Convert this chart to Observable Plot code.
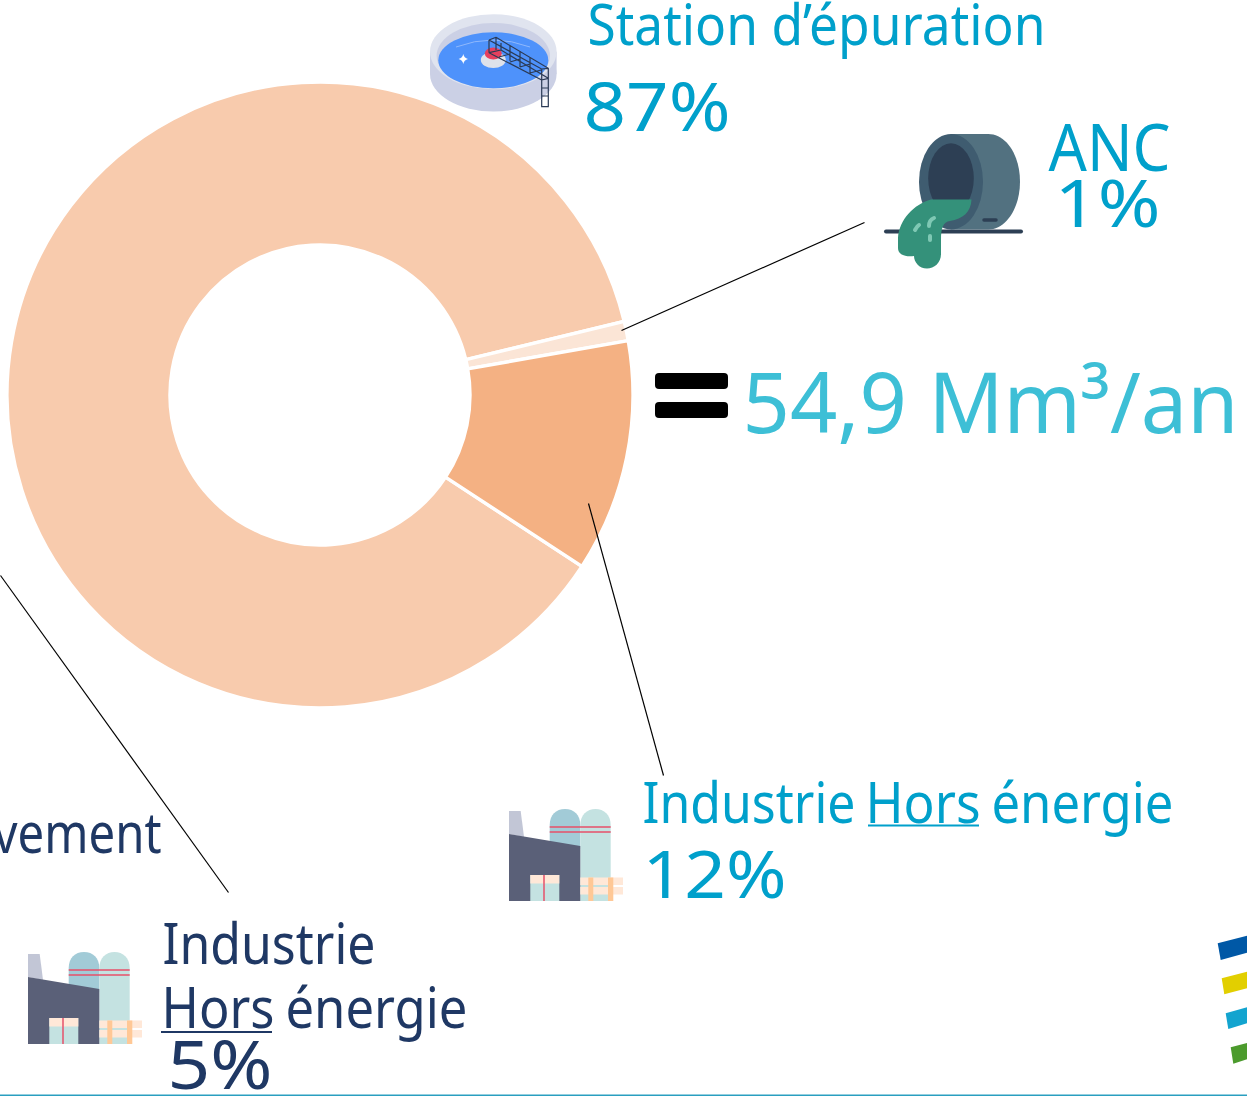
<!DOCTYPE html>
<html lang="fr">
<head>
<meta charset="utf-8">
<title>Rejets d'eau</title>
<script src="https://cdn.jsdelivr.net/npm/d3@7"></script>
<script src="https://cdn.jsdelivr.net/npm/@observablehq/plot@0.6"></script>
<style>
  html, body { margin: 0; padding: 0; background: #fff; overflow: hidden; }
  svg { display: block; }
</style>
</head>
<body>
<div id="chart"></div>
<script>
// Parts of the annual discharge volume, clockwise.
const categories = ["Station d’épuration", "ANC", "Industrie Hors énergie"];
const shares = [87, 1, 12];
const sliceColors = ["#f8cbad", "#fbe5d6", "#f4b183"];
const totalLabel = "54,9 Mm³/an";
const otherIndustryShare = 5;

const W = 1247, H = 1096;
const FONT = "'Noto Sans', 'Open Sans', sans-serif";
const BLUE = "#00a0cb", NAVY = "#1f3864", AQUA = "#3dbfd6";

// Ring geometry and the angle at which the first share begins.
const ring = {cx: 320, cy: 395, outer: 313, inner: 150, startShare: 34.22};
const shareAngle = Plot.scale({
  x: {domain: [0, 100], range: [ring.startShare / 100 * 2 * Math.PI, (ring.startShare / 100 + 1) * 2 * Math.PI]}
});

let running = 0;
const slices = categories.map((category, i) => {
  const row = {category, share: shares[i], from: running, to: running + shares[i]};
  running += shares[i];
  return row;
});

// Draws each slice as an annular sector inside the rect's bounding box.
function arcRender(index, scales, values) {
  const g = d3.create("svg:g");
  const arc = d3.arc();
  for (const i of index) {
    const x1 = values.x1[i], x2 = values.x2[i], y1 = values.y1[i], y2 = values.y2[i];
    const outer = Math.abs(x2 - x1) / 2;
    g.append("path")
      .attr("transform", `translate(${(x1 + x2) / 2},${(y1 + y2) / 2})`)
      .attr("d", arc({
        innerRadius: outer * ring.inner / ring.outer,
        outerRadius: outer,
        startAngle: shareAngle.apply(slices[i].from),
        endAngle: shareAngle.apply(slices[i].to)
      }))
      .attr("fill", values.fill ? values.fill[i] : sliceColors[i])
      .attr("stroke", "#fff")
      .attr("stroke-width", 3.4);
  }
  return g.node();
}

// Text placements: [text, x, baseline, size, colour, anchor, fitted width].
const labels = [
  [categories[0], 587, 44, 56, BLUE, "start", 458],
  [`${shares[0]}%`, 583, 130, 67, BLUE, "start", 147],
  [categories[1], 1048, 170, 66, BLUE, "start", 122],
  [`${shares[1]}%`, 1054, 226, 66, BLUE, "start", 106],
  [totalLabel, 742, 432, 84, AQUA, "start", 496],
  ["Industrie", 642, 822, 56, BLUE, "start", 213],
  ["Hors", 865, 822, 56, BLUE, "start", 115],
  ["énergie", 991, 822, 56, BLUE, "start", 182],
  [`${shares[2]}%`, 642, 897, 66, BLUE, "start", 144],
  ["vement", 161, 852, 56, NAVY, "end", 168],
  ["Industrie", 162, 963, 56, NAVY, "start", 213],
  ["Hors", 161, 1027, 56, NAVY, "start", 113],
  ["énergie", 285, 1027, 56, NAVY, "start", 182],
  [`${otherIndustryShare}%`, 167, 1088, 68, NAVY, "start", 105]
];

const leaders = [
  {x1: 621, y1: 330, x2: 864, y2: 222},
  {x1: 588, y1: 503, x2: 663, y2: 775},
  {x1: 0, y1: 575, x2: 228, y2: 892}
];

const underlines = [
  {x1: 868, x2: 979, y: 825, stroke: BLUE},
  {x1: 161, x2: 272, y: 1031.5, stroke: NAVY}
];

const equalBars = [
  {y1: 373, y2: 389},
  {y1: 402, y2: 418}
];

// Illustration shared by both industry labels, in local pixels.
const factory = `
  <path fill="#c2c6d6" d="M0 2H11.7L15 28 0 25Z"/>
  <path fill="#a2cbd7" d="M40.7 37V16C40.7 6 47 0 56 0 65 0 71.3 6 71.3 16V40Z"/>
  <path fill="#c4e2e1" d="M71.3 92V16C71.3 6 78 0 86.5 0 95 0 101.7 6 101.7 16V92Z"/>
  <path stroke="#e6506a" stroke-width="1.7" d="M40.7 18H101.7M40.7 23H101.7"/>
  <path fill="#5a6078" d="M0 25 71.3 37V92H0Z"/>
  <path fill="#c4e2e1" d="M21.3 66H50.3V92H21.3Z"/>
  <path fill="#ffe8d8" d="M21.3 66H50.3V74.5H21.3Z"/>
  <path stroke="#e6506a" stroke-width="1.5" d="M35 66V92"/>
  <path fill="#ffe8d8" d="M71.3 68.5H114V76H71.3ZM71.3 78H114V85.5H71.3Z"/>
  <path fill="#ffc896" d="M79.3 68.5H84.3V92H79.3ZM99 68.5H104.3V92H99Z"/>`;

const station = `
  <ellipse cx="493.3" cy="74" rx="63.3" ry="37.5" fill="#cbd0e5"/>
  <path fill="#cbd0e5" d="M430 51.7H556.6V74H430Z"/>
  <ellipse cx="493.3" cy="51.7" rx="63.3" ry="37.5" fill="#e0e4ef"/>
  <ellipse cx="493.3" cy="55.7" rx="56.7" ry="32.8" fill="#cbd0e5"/>
  <ellipse cx="493.3" cy="60.3" rx="55" ry="28" fill="#4e92fb"/>
  <path fill="none" stroke="#8fb8fc" d="M456 47Q493 33 530 47"/>
  <path fill="#fff" d="M463.3 54Q464 58 468 59 464 60 463.3 64 462.6 60 458.6 59 462.6 58 463.3 54Z"/>
  <ellipse cx="493.3" cy="60" rx="12.5" ry="8" fill="#dfe2ea"/>
  <ellipse cx="493.3" cy="53.5" rx="8.5" ry="6" fill="#e5405e"/>
  <path fill="none" stroke="#2b3a55" stroke-width="1.2" d="M496 37.3 548.3 68.300V80M489 40 541.7 69V80M489 52.700 541.700 80M501 50 548.300 78.300M489 40 496 37.300M541.700 69 548.300 68.300M489 40V52.700M496 37.300V50M501 43V50M510 46V61M520 51V67M530 57V73M541.700 80 548.300 78.300M489 52.700 501 50M499 57 510 54M510 62 520 59M520 67 530 64M530 73 541 70M541.700 80V106.700H548.300V78.300M541.700 88H548.300M541.700 96H548.300"/>`;

const pipe = `
  <path stroke="#2d3f54" stroke-width="4" stroke-linecap="round" d="M886 231.5H1021"/>
  <path fill="#527180" d="M950.7 134H988.3C1006 134 1020 155 1020 181.7 1020 208 1006 229.5 988.3 229.5H950.7Z"/>
  <ellipse cx="951" cy="181.7" rx="32" ry="47.7" fill="#3f5c70"/>
  <ellipse cx="951" cy="178.3" rx="22.8" ry="35" fill="#2d3f54"/>
  <path stroke="#2d3f54" stroke-width="3.500" stroke-linecap="round" d="M984 220H996"/>
  <path fill="#34917a" d="M931 199.500H971.500C971 212 963 219 950 221 943 222 941 228 941 240V254C941 263 934 268.500 927 268.500 919 268.500 914 262 914 256 908 257 898 256 898 248V238C899 220 914 204 931 199.500Z"/>
  <path fill="none" stroke="#7fc8b4" stroke-width="4" stroke-linecap="round" d="M915 230Q917 226 919 225M929 226Q929 220 934 218M930 236V240"/>`;

// Cropped bars of the logo in the bottom corner.
const logo = `
  <path fill="#0058a6" d="M1217.7 943.3 1247 935.700V952.7L1220.7 960Z"/>
  <path fill="#e2cf00" d="M1221.7 978.3 1247 971.7V988.3L1224.3 994.300Z"/>
  <path fill="#13a4cf" d="M1225.700 1013.3 1247 1007.300V1023.300L1228.300 1029Z"/>
  <path fill="#4c9b2d" d="M1230.700 1047.300 1247 1043V1059.300L1233.300 1063.700Z"/>`;

function artwork() {
  const g = d3.create("svg:g");
  g.html(`${station}${pipe}${logo}
    <g transform="translate(509,809)">${factory}</g>
    <g transform="translate(28,952)">${factory}</g>`);
  return g.node();
}

// Squeezes a label horizontally to the width it is given.
const fitted = width => (index, scales, values, dimensions, context, next) => {
  const g = next(index, scales, values, dimensions, context);
  g.querySelectorAll("text").forEach(t => {
    t.setAttribute("textLength", width);
    t.setAttribute("lengthAdjust", "spacingAndGlyphs");
  });
  return g;
};

const plot = Plot.plot({
  width: W,
  height: H,
  margin: 0,
  style: {background: "#fff", fontFamily: FONT},
  x: {domain: [0, W], range: [0, W], axis: null},
  y: {domain: [0, H], range: [0, H], axis: null},
  color: {domain: categories, range: sliceColors},
  marks: [
    Plot.rect(slices, {
      x1: () => ring.cx - ring.outer,
      x2: () => ring.cx + ring.outer,
      y1: () => ring.cy - ring.outer,
      y2: () => ring.cy + ring.outer,
      fill: "category",
      render: arcRender
    }),
    Plot.link(leaders, {x1: "x1", y1: "y1", x2: "x2", y2: "y2", stroke: "#000", strokeWidth: 1.2}),
    artwork,
    Plot.rect(equalBars, {x1: () => 655, x2: () => 728, y1: "y1", y2: "y2", fill: "#000", rx: 4}),
    ...labels.map(([text, x, y, size, color, anchor, width]) =>
      Plot.text([text], {
        x: () => x, y: () => y, text: d => d,
        fontSize: size, fill: color, textAnchor: anchor, lineAnchor: "bottom",
        render: fitted(width)
      })),
    Plot.ruleY(underlines, {x1: "x1", x2: "x2", y: "y", stroke: "stroke", strokeWidth: 2}),
    Plot.ruleY([1095], {stroke: "#2a9fc0", strokeWidth: 2})
  ]
});
document.getElementById("chart").append(plot);
</script>
</body>
</html>
